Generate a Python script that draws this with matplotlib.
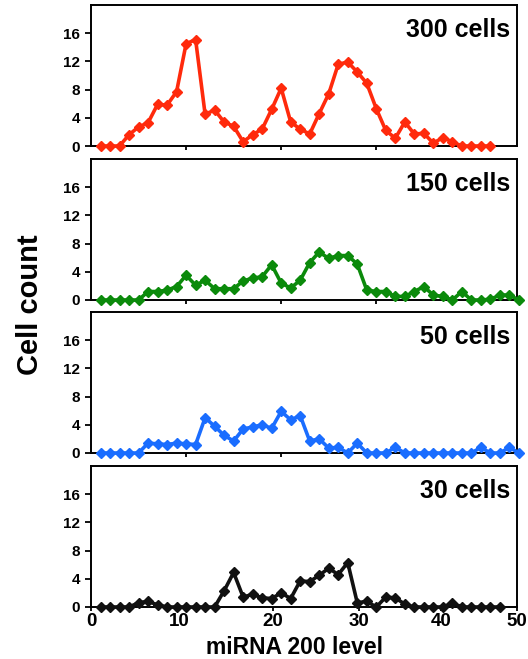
import numpy as np
from matplotlib import pyplot as plt

plt.rcParams['font.family'] = ['Liberation Sans', 'DejaVu Sans']
plt.rcParams['font.weight'] = 'bold'

# cell counts per miRNA 200 level bin
red_300 = [0, 0, 0, 1.6, 2.7, 3.3, 5.9, 5.8, 7.7, 14.5, 15.1, 4.5, 5.1, 3.4, 2.8,
           0.6, 1.6, 2.4, 5.2, 8.2, 3.4, 2.4, 1.7, 4.6, 7.4, 11.6, 11.9, 10.5, 8.9,
           5.3, 2.2, 1.1, 3.4, 1.7, 1.8, 0.4, 1.2, 0.6, 0, 0, 0, 0]
green_150 = [0, 0, 0, 0, 0, 1.2, 1.2, 1.4, 1.9, 3.5, 2.1, 2.8, 1.6, 1.6, 1.6,
             2.7, 3.1, 3.3, 5.0, 2.4, 1.7, 2.8, 5.3, 6.8, 5.9, 6.3, 6.3, 5.1,
             1.4, 1.2, 1.2, 0.5, 0.5, 1.2, 1.9, 0.7, 0.5, 0, 1.2, 0, 0, 0.1, 0.7, 0.7, 0]
blue_50 = [0, 0, 0, 0, 0, 1.4, 1.3, 1.2, 1.4, 1.3, 1.2, 5.0, 3.8, 2.5, 1.7, 3.4,
           3.7, 4.0, 3.5, 5.9, 4.7, 5.3, 1.7, 2.0, 0.7, 0.8, 0, 1.4, 0, 0, 0, 0.8,
           0, 0, 0, 0, 0, 0, 0, 0, 0.8, 0, 0, 0.8, 0]
black_30 = [0, 0, 0, 0, 0.6, 0.8, 0.3, 0, 0, 0, 0, 0, 0, 2.3, 4.9, 1.4, 1.8, 1.3,
            1.2, 2.0, 1.2, 3.7, 3.6, 4.5, 5.5, 4.6, 6.3, 0.6, 0.8, 0, 1.4, 1.3,
            0.4, 0, 0, 0, 0, 0.6, 0, 0, 0, 0, 0]

panels = [(red_300, '#ff2a0c', '300 cells'),
          (green_150, '#0b8a0b', '150 cells'),
          (blue_50, '#1a6dff', '50 cells'),
          (black_30, '#111111', '30 cells')]

level_labels = ['0', '10', '20', '30', '40', '50']
label_pos = [0, 9.3, 19.1, 28.2, 36.8, 44.8]

W, H = 528, 659
fig = plt.figure(figsize=(W / 100, H / 100), dpi=100)

tops = [5, 159, 312, 466]
for i, (vals, col, name) in enumerate(panels):
    top = tops[i]
    ax = fig.add_axes([91 / W, 1 - (top + 141) / H, 426 / W, 141 / H])
    x = np.arange(1, len(vals) + 1)
    ax.plot(x, vals, color=col, lw=2.6, marker='D', ms=5, mec=col, clip_on=False, zorder=3)
    ax.set_xlim(0, 44.8)
    ax.set_ylim(0, 20)
    ax.set_yticks([0, 4, 8, 12, 16])
    ax.tick_params(axis='y', direction='out', length=4, width=1.3, labelsize=11, pad=4)
    for s in ax.spines.values():
        s.set_linewidth(1.4)
    if i < 3:
        ax.set_xticks([10, 20, 30, 40])
        ax.tick_params(axis='x', direction='out', length=3, width=1.3, labelbottom=False)
    else:
        ax.set_xticks(label_pos, level_labels)
        ax.tick_params(axis='x', direction='out', length=3, width=1.3, labelsize=13.5, pad=1)
    ax.text(0.984, 0.825, name, transform=ax.transAxes, ha='right', va='center',
            fontsize=18, fontweight='bold')

fig.text(294 / W, 1 - 647 / H, 'miRNA 200 level', ha='center', va='center',
         fontsize=16.5, fontweight='bold')
fig.text(30 / W, 1 - 305 / H, 'Cell count', ha='center', va='center', rotation=90,
         fontsize=21, fontweight='bold')

fig.savefig('out.png', dpi=100)
